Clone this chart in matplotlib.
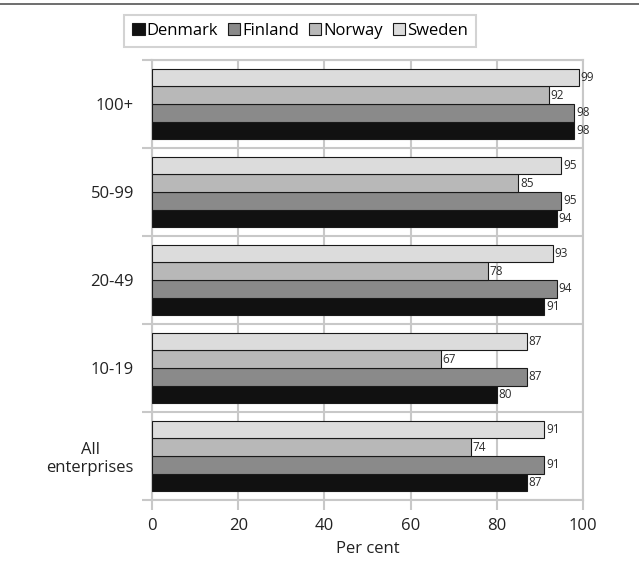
"""Share of enterprises by size class, Nordic countries."""
import matplotlib
matplotlib.use("Agg")
import matplotlib.pyplot as plt
import numpy as np
from matplotlib.lines import Line2D

plt.rcParams["font.family"] = ["Open Sans", "DejaVu Sans"]

categories = ["All\nenterprises", "10-19", "20-49", "50-99", "100+"]
countries = ["Denmark", "Finland", "Norway", "Sweden"]
denmark = [87, 80, 91, 94, 98]
finland = [91, 87, 94, 95, 98]
norway = [74, 67, 78, 85, 92]
sweden = [91, 87, 93, 95, 99]
xticks = [0, 20, 40, 60, 80, 100]

series = [denmark, finland, norway, sweden]
colors = ["#111111", "#8a8a8a", "#b8b8b8", "#dcdcdc"]
grid_c = "#c8c8c8"

fig = plt.figure(figsize=(6.39, 5.62), dpi=100)
ax = fig.add_axes([152 / 639, 1 - 500 / 562, 431 / 639, 440 / 562])

bar_h = 0.2
pos = np.arange(len(categories))
for i, (vals, col) in enumerate(zip(series, colors)):
    y = pos + (i - 1.5) * bar_h
    ax.barh(y, vals, height=bar_h, color=col, edgecolor="#1a1a1a",
            linewidth=0.8, zorder=3, label=countries[i])
    for yy, v in zip(y, vals):
        ax.text(v + 0.4, yy, str(v), fontsize=8.5, color="#2a2a2a",
                va="center", ha="left", zorder=4)

ax.set_xlim(0, 100)
ax.set_ylim(-0.5, len(categories) - 0.5)
ax.set_xticks(xticks)
ax.set_xticklabels([str(t) for t in xticks], fontsize=12, color="#222222")
ax.tick_params(axis="x", length=7, width=1.5, color=grid_c, pad=6)

# group boundaries as major ticks, names on minor ticks
ax.set_yticks(np.arange(-0.5, len(categories)))
ax.set_yticklabels([])
ax.set_yticks(pos, minor=True)
ax.set_yticklabels(categories, minor=True, fontsize=12, color="#222222",
                   multialignment="center")
ax.tick_params(axis="y", which="major", length=7, width=1.5, color=grid_c)
ax.tick_params(axis="y", which="minor", length=0, pad=13)

ax.xaxis.grid(True, color=grid_c, linewidth=1.5, zorder=0)
ax.yaxis.grid(True, which="major", color=grid_c, linewidth=1.5, zorder=0)
ax.set_axisbelow(True)
for s in ax.spines.values():
    s.set_color(grid_c)
    s.set_linewidth(1.5)

ax.set_xlabel("Per cent", fontsize=12, color="#222222", labelpad=5)

# rule across the top of the figure
fig.add_artist(Line2D([0, 1], [1 - 4 / 562, 1 - 4 / 562], color="#555555",
                      linewidth=1.2, transform=fig.transFigure))

handles, labels = ax.get_legend_handles_labels()
leg = fig.legend(handles, labels, loc="center", ncol=4, fontsize=12,
                 bbox_to_anchor=(300 / 639, 1 - 31 / 562), frameon=True,
                 fancybox=False, handlelength=0.75, handleheight=0.75,
                 handletextpad=0.1, columnspacing=0.6, borderpad=0.5)
leg.get_frame().set_edgecolor(grid_c)
leg.get_frame().set_linewidth(1.5)

fig.savefig("out.png", dpi=100)
